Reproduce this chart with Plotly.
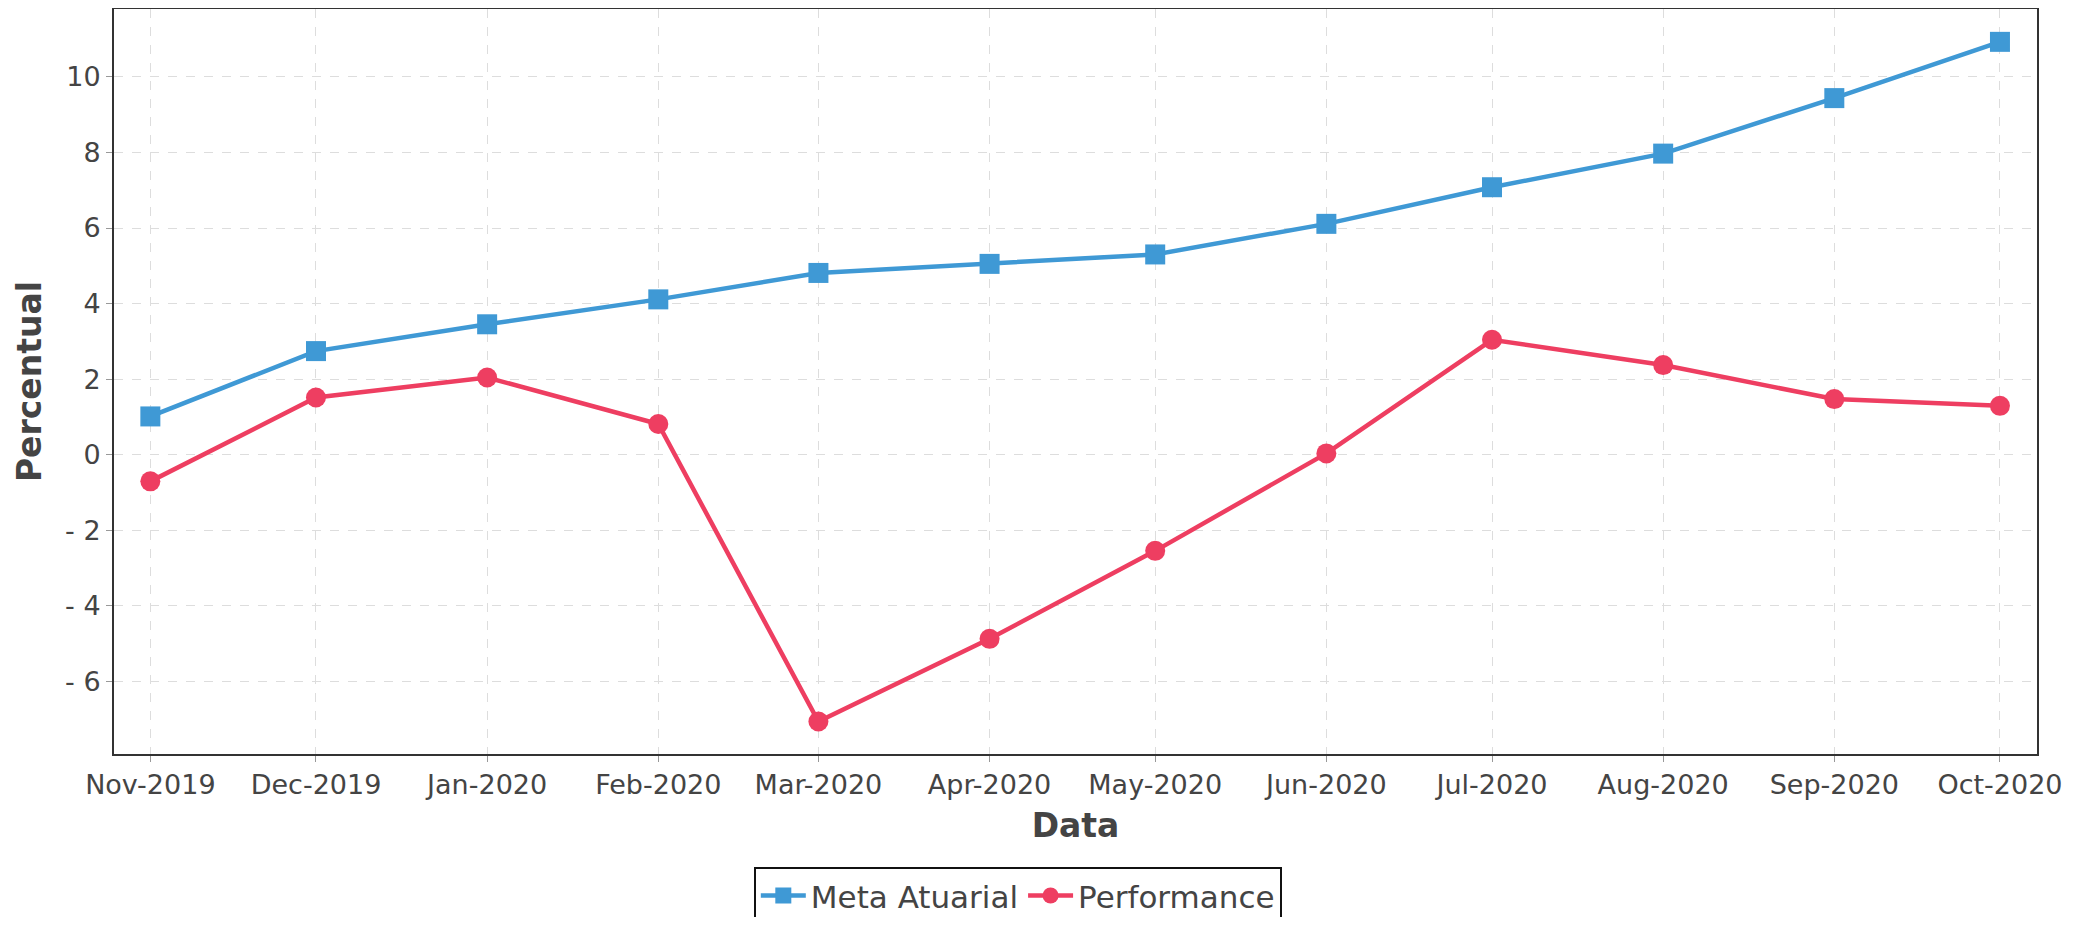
import plotly.graph_objects as go

months = ["2019-11-01", "2019-12-01", "2020-01-01", "2020-02-01", "2020-03-01", "2020-04-01",
          "2020-05-01", "2020-06-01", "2020-07-01", "2020-08-01", "2020-09-01", "2020-10-01"]
month_labels = ["Nov-2019", "Dec-2019", "Jan-2020", "Feb-2020", "Mar-2020", "Apr-2020",
                "May-2020", "Jun-2020", "Jul-2020", "Aug-2020", "Sep-2020", "Oct-2020"]
meta_atuarial = [1.01, 2.74, 3.45, 4.11, 4.81, 5.05, 5.30, 6.11, 7.08, 7.97, 9.44, 10.93]
performance = [-0.71, 1.51, 2.04, 0.81, -7.07, -4.88, -2.55, 0.03, 3.04, 2.37, 1.47, 1.29]
y_ticks = [-6, -4, -2, 0, 2, 4, 6, 8, 10]
y_ticklabels = ["- 6", "- 4", "- 2", "0", "2", "4", "6", "8", "10"]

BLUE = "#3F99D5"
RED = "#EE3E61"
TXT = "#444444"
FONT = "DejaVu Sans, Liberation Sans, Arial, sans-serif"

fig = go.Figure()
fig.add_trace(go.Scatter(
    x=months, y=meta_atuarial, name="Meta Atuarial", mode="lines+markers",
    line=dict(color=BLUE, width=4.5),
    marker=dict(symbol="square", size=20, color=BLUE),
))
fig.add_trace(go.Scatter(
    x=months, y=performance, name="Performance", mode="lines+markers",
    line=dict(color=RED, width=4.5),
    marker=dict(symbol="circle", size=20, color=RED),
))

# page has an 8px body margin; figure sized so it fits the 2085x925 viewport
fig.update_layout(
    width=2069, height=909,
    paper_bgcolor="white", plot_bgcolor="white",
    margin=dict(l=106, r=40, t=1, b=163, autoexpand=False),
    font=dict(family=FONT, color=TXT, size=27),
    showlegend=True,
    legend=dict(
        orientation="h", x=0.470, xanchor="center", y=-0.1515, yanchor="top",
        font=dict(family=FONT, size=31, color=TXT),
        bordercolor="#111111", borderwidth=2, bgcolor="white",
        itemwidth=45,
    ),
)

fig.update_xaxes(
    type="date",
    range=["2019-10-25 10:00", "2020-10-07 17:00"],
    tickvals=months, ticktext=month_labels,
    tickfont=dict(family=FONT, size=27, color=TXT),
    ticks="outside", ticklen=6, tickcolor="#999999", tickwidth=1,
    showgrid=True, gridcolor="#DDDDDD", gridwidth=1, griddash="dash",
    showline=True, linecolor="#333333", linewidth=2, mirror=True,
    zeroline=False,
    title=dict(text="Data", font=dict(family=FONT, size=33, color=TXT, weight="bold"), standoff=14),
)
fig.update_yaxes(
    range=[-7.93, 11.8],
    tickvals=y_ticks, ticktext=y_ticklabels,
    tickfont=dict(family=FONT, size=27, color=TXT),
    ticks="outside", ticklen=6, tickcolor="#999999", tickwidth=1,
    showgrid=True, gridcolor="#DDDDDD", gridwidth=1, griddash="dash",
    showline=True, linecolor="#333333", linewidth=2, mirror=True,
    zeroline=False,
    title=dict(text="Percentual", font=dict(family=FONT, size=33, color=TXT, weight="bold"), standoff=14),
)

fig.write_html("out.html")
